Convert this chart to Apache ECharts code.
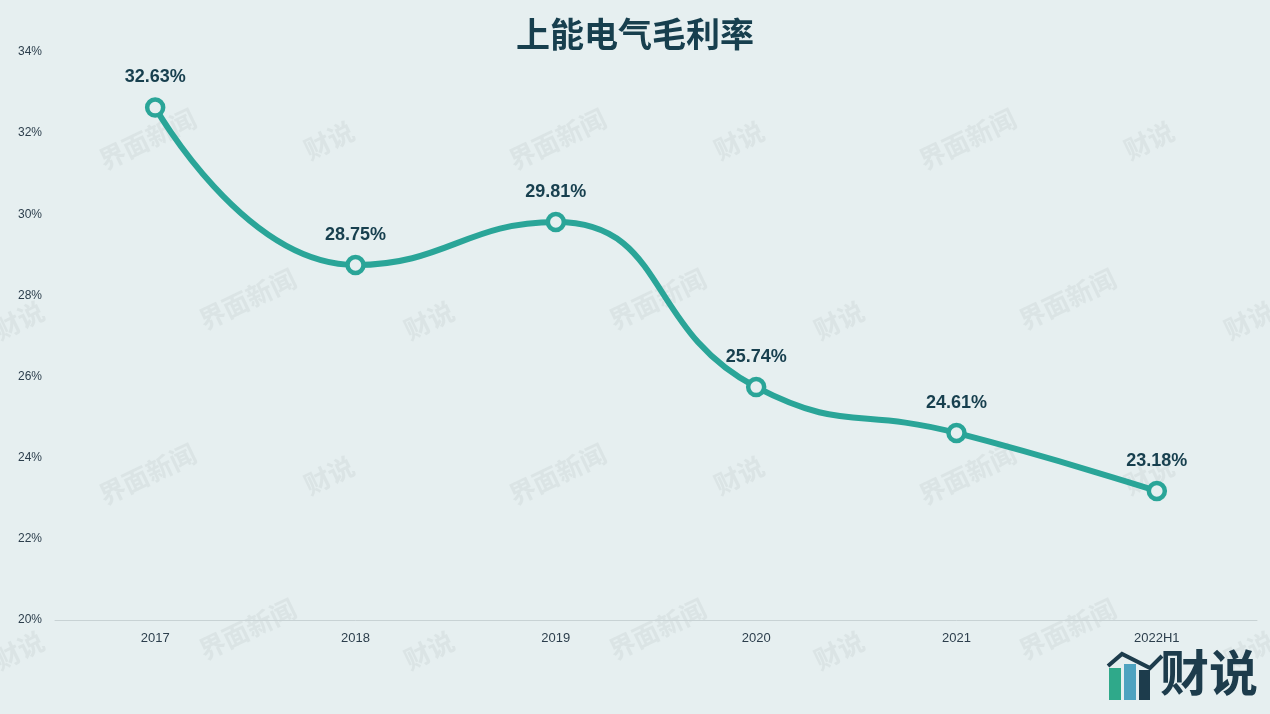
<!DOCTYPE html>
<html>
<head>
<meta charset="utf-8">
<title>上能电气毛利率</title>
<script src="https://cdn.jsdelivr.net/npm/echarts@6/dist/echarts.min.js"></script>
<style>
  html, body { margin: 0; padding: 0; background: #e6eff0; }
  #chart { width: 1270px; height: 714px; }
</style>
</head>
<body>
<div id="chart"></div>
<script>
  // 数据
  var years = ['2017', '2018', '2019', '2020', '2021', '2022H1'];
  var grossMargin = [32.63, 28.75, 29.81, 25.74, 24.61, 23.18];
  var yTicks = [20, 22, 24, 26, 28, 30, 32, 34];

  var chart = echarts.init(document.getElementById('chart'));

  // 水印
  var marks = [];
  var rows = [150, 320, 485, 650];
  for (var r = 0; r < rows.length; r++) {
    for (var c = 0; c < 7; c++) {
      var isJm = (c + r) % 2 === 0;
      marks.push({
        type: 'text',
        x: (r % 2 ? -10 : 95) + c * 205,
        y: rows[r] + (c % 2 ? -10 : 0),
        rotation: 0.45,
        silent: true,
        z: -1,
        style: {
          text: isJm ? '界面新闻' : '财说',
          fill: 'rgba(190,200,202,0.28)',
          font: 'bold 26px "Noto Sans CJK SC"'
        }
      });
    }
  }

  // 右下角 logo
  var logo = [
    { type: 'rect', shape: { x: 1109, y: 668, width: 12, height: 32 }, style: { fill: '#2fa98a' } },
    { type: 'rect', shape: { x: 1124, y: 664, width: 12, height: 36 }, style: { fill: '#4ea3c0' } },
    { type: 'rect', shape: { x: 1139, y: 670, width: 11, height: 30 }, style: { fill: '#1d3c4c' } },
    { type: 'polyline', shape: { points: [[1108, 666], [1122, 654], [1150, 668], [1162, 656]] },
      style: { stroke: '#1d3c4c', lineWidth: 4, fill: null } },
    { type: 'text', x: 1160, y: 648, style: { text: '财说', fill: '#1d3c4c', font: 'bold 49px "Noto Sans CJK SC"' } }
  ];

  chart.setOption({
    backgroundColor: '#e6eff0',
    title: {
      text: '上能电气毛利率',
      left: 'center',
      top: 12,
      textStyle: {
        fontFamily: 'Noto Sans CJK SC',
        fontSize: 34,
        fontWeight: 'bold',
        color: '#173f4e'
      }
    },
    graphic: marks.concat(logo),
    grid: {
      left: 55,
      right: 13,
      top: 52,
      bottom: 94
    },
    xAxis: {
      type: 'category',
      data: years,
      boundaryGap: true,
      axisLine: { lineStyle: { color: '#c8d2d4', width: 1 } },
      axisTick: { show: false },
      axisLabel: {
        color: '#2c3e4c',
        fontSize: 13,
        margin: 12,
        fontFamily: 'Liberation Sans'
      }
    },
    yAxis: {
      type: 'value',
      min: yTicks[0],
      max: yTicks[yTicks.length - 1],
      interval: 2,
      axisLine: { show: false },
      axisTick: { show: false },
      splitLine: { show: false },
      axisLabel: {
        color: '#2c3e4c',
        fontSize: 12,
        align: 'left',
        margin: 37,
        fontFamily: 'Liberation Sans',
        formatter: '{value}%'
      }
    },
    series: [{
      type: 'line',
      data: grossMargin,
      smooth: 0.5,
      symbol: 'circle',
      symbolSize: 16,
      lineStyle: { color: '#2aa598', width: 6 },
      itemStyle: { color: '#e6eff0', borderColor: '#2aa598', borderWidth: 4.5 },
      label: {
        show: true,
        position: 'top',
        distance: 11,
        formatter: '{c}%',
        color: '#173f4e',
        fontSize: 18,
        fontWeight: 'bold',
        fontFamily: 'Liberation Sans'
      },
      z: 3
    }]
  });
</script>
</body>
</html>
